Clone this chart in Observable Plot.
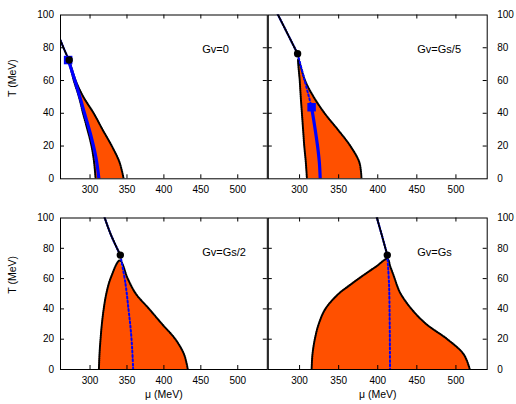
<!DOCTYPE html>
<html><head><meta charset="utf-8">
<script src="https://cdn.jsdelivr.net/npm/d3@7"></script>
<script src="https://cdn.jsdelivr.net/npm/@observablehq/plot@0.6"></script>
<style>
body{margin:0;background:#fff;}
#wrap{position:relative;width:516px;height:404px;overflow:hidden;background:#fff;}
#wrap svg{position:absolute;overflow:visible;}
</style></head><body><div id="wrap"></div>
<script>
// ---- axes ----
const xTicks = [300, 350, 400, 450, 500];
const yTicks = [0, 20, 40, 60, 80, 100];
const xDomain = [260, 540];
const yDomain = [0, 100];
const panelLabels = ["Gv=0", "Gv=Gs/5", "Gv=Gs/2", "Gv=Gs"];

// ---- Gv=0 ----
const g0_T     = [72.5, 60, 50, 40, 30, 20, 10, 0];
const g0_left  = [271.5, 278, 285, 290.5, 296.5, 302, 305.5, 307.5];
const g0_right = [271.5, 280.5, 291, 305, 317, 329.5, 340, 345.5];
const g0_crossT  = [84.5, 78, 72.5];
const g0_crossMu = [260, 266, 271.5];
const g0_dashT  = [];
const g0_dashMu = [];
const g0_solidT  = [72.5, 60, 48, 40, 27.5, 13, 0];
const g0_solidMu = [270.5, 279.5, 287.5, 292.5, 300.5, 308, 312];
const g0_cep = [271.8, 72.5];
const g0_end = [270.3, 72.5];

// ---- Gv=Gs/5 ----
const g5_T     = [73, 60, 50, 40, 30, 20, 10, 0];
const g5_left  = [298.3, 300.2, 301.5, 303, 304.5, 306, 308, 309.4];
const g5_right = [298.3, 307, 318, 332, 349, 365, 376.5, 379.2];
const g5_crossT  = [100.5, 88.5, 76.3];
const g5_crossMu = [272, 284.7, 297.5];
const g5_dashT  = [76.3, 61, 43.7];
const g5_dashMu = [297.5, 306, 315.4];
const g5_solidT  = [43.7, 30, 20, 10, 0];
const g5_solidMu = [315.4, 320, 323, 325.3, 326.4];
const g5_cep = [297.5, 76.3];
const g5_end = [315.4, 43.7];

// ---- Gv=Gs/2 ----
const g2_T     = [72, 60, 50, 40, 30, 20, 10, 0];
const g2_left  = [340.3, 327.7, 322, 318.5, 316, 314.2, 312.8, 312];
const g2_right = [340.3, 351, 362, 380, 397.5, 415.5, 427.3, 432.4];
const g2_crossT  = [100.5, 89.6, 75.5];
const g2_crossMu = [319.6, 327.7, 341];
const g2_dashT  = [75.5, 56.6, 40, 27.9, 14, 0];
const g2_dashMu = [341, 348, 352, 354.8, 357, 358.4];
const g2_solidT  = [];
const g2_solidMu = [];
const g2_cep = [341, 75.5];
const g2_end = null;

// ---- Gv=Gs ----
const g1_T     = [73, 68, 61, 55, 50, 40, 30, 20, 10, 0];
const g1_left  = [412.4, 398, 378.3, 362.5, 350, 333, 324.5, 319.5, 316.5, 315.4];
const g1_right = [412.4, 416, 421, 425, 429.3, 443, 462, 489, 510, 517.8];
const g1_crossT  = [100.5, 89.6, 75.5];
const g1_crossMu = [398.7, 404.7, 412.2];
const g1_dashT  = [75.5, 56.6, 30, 0];
const g1_dashMu = [412.2, 414.4, 415.3, 415.7];
const g1_solidT  = [];
const g1_solidMu = [];
const g1_cep = [412.2, 75.5];
const g1_end = null;

const ORANGE = "#ff5000";
const BLUE = "#0000ff";
const FONT = "'Liberation Sans', Arial, Helvetica, sans-serif";
const curve = "catmull-rom";

function pts(mus, Ts) { return mus.map((m, i) => ({mu: m, T: Ts[i]})); }

function panel(cfg) {
  const {T, left, right, crossT, crossMu, dashT, dashMu, solidT, solidMu, cep, end, label, box} = cfg;
  const rows = T.map((t, i) => ({T: t, l: left[i], r: right[i]}));
  const boundary = pts(left, T).reverse().concat(pts(right, T).slice(1));
  const cross = pts(crossMu, crossT);
  const dash = pts(dashMu, dashT);
  const solid = pts(solidMu, solidT);
  const W = box.width - box.ml - box.mr;
  const H = box.height - box.mt - box.mb;
  const marks = [
    Plot.areaX(rows, {y: "T", x1: "l", x2: "r", fill: ORANGE, curve}),
    Plot.line(boundary, {x: "mu", y: "T", stroke: "#000", strokeWidth: 2, strokeDasharray: "1,1.1", curve, clip: true}),
    Plot.line(cross, {x: "mu", y: "T", stroke: BLUE, strokeWidth: 2, curve, clip: true}),
    Plot.line(cross, {x: "mu", y: "T", stroke: "#000", strokeWidth: 2, strokeDasharray: "1,1.8", curve, clip: true}),
    Plot.line(dash, {x: "mu", y: "T", stroke: BLUE, strokeWidth: 2, strokeDasharray: "1.8,2.4", curve, clip: true}),
    Plot.line(solid, {x: "mu", y: "T", stroke: BLUE, strokeWidth: 3.2, curve, clip: true}),
  ];
  if (end) marks.push(Plot.dot([end], {x: d => d[0], y: d => d[1], symbol: "square", r: 4.8, fill: BLUE}));
  marks.push(Plot.dot([cep], {x: d => d[0], y: d => d[1], r: 3.7, fill: "#000"}));
  marks.push(
    Plot.frame({stroke: "#000", strokeWidth: 1}),
    Plot.tickX(xTicks, {x: d => d, insetTop: H - 4, stroke: "#000"}),
    Plot.tickX(xTicks, {x: d => d, insetBottom: H - 4, stroke: "#000"}),
    Plot.tickY(yTicks.slice(1, -1), {y: d => d, insetRight: W - 4, stroke: "#000"}),
    Plot.tickY(yTicks.slice(1, -1), {y: d => d, insetLeft: W - 4, stroke: "#000"}),
    Plot.axisX(xTicks, {anchor: "bottom", tickSize: 0, tickPadding: 7, label: null, fontSize: 10}),
    Plot.axisY(yTicks, {anchor: box.yAnchor, tickSize: 0, tickPadding: box.yAnchor === "left" ? 6.5 : 10, label: null, fontSize: 10}),
    Plot.text([label], {frameAnchor: "top-left", dx: box.labelDx, dy: 30.5, textAnchor: "start", fontSize: 11})
  );
  if (box.yAnchor === "left") {
    marks.push(Plot.text(["T (MeV)"], {frameAnchor: "left", dx: -48, rotate: -90, fontSize: 10.5}));
  }
  if (box.xTitle) {
    marks.push(Plot.text(["\u03bc (MeV)"], {frameAnchor: "bottom", dy: 28.7, fontSize: 10.5}));
  }
  const svg = Plot.plot({
    width: box.width, height: box.height,
    marginLeft: box.ml, marginRight: box.mr, marginTop: box.mt, marginBottom: box.mb,
    style: {background: "transparent", fontFamily: FONT, fontSize: "10px", color: "#000", overflow: "visible"},
    x: {domain: xDomain},
    y: {domain: yDomain},
    marks
  });
  svg.style.left = box.left + "px";
  svg.style.top = box.top + "px";
  return svg;
}

const wrap = document.getElementById("wrap");
wrap.appendChild(panel({T: g0_T, left: g0_left, right: g0_right, crossT: g0_crossT, crossMu: g0_crossMu,
  dashT: g0_dashT, dashMu: g0_dashMu, solidT: g0_solidT, solidMu: g0_solidMu, cep: g0_cep, end: g0_end,
  label: panelLabels[0],
  box: {left: 0, top: 0, width: 275, height: 200, ml: 60, mr: 8.2, mt: 14.5, mb: 21.7, yAnchor: "left", labelDx: 141.7, xTitle: false}}));
wrap.appendChild(panel({T: g5_T, left: g5_left, right: g5_right, crossT: g5_crossT, crossMu: g5_crossMu,
  dashT: g5_dashT, dashMu: g5_dashMu, solidT: g5_solidT, solidMu: g5_solidMu, cep: g5_cep, end: g5_end,
  label: panelLabels[1],
  box: {left: 260, top: 0, width: 256, height: 200, ml: 7.8, mr: 29.3, mt: 14.5, mb: 21.7, yAnchor: "right", labelDx: 149, xTitle: false}}));
wrap.appendChild(panel({T: g2_T, left: g2_left, right: g2_right, crossT: g2_crossT, crossMu: g2_crossMu,
  dashT: g2_dashT, dashMu: g2_dashMu, solidT: g2_solidT, solidMu: g2_solidMu, cep: g2_cep, end: g2_end,
  label: panelLabels[2],
  box: {left: 0, top: 200, width: 275, height: 204, ml: 60, mr: 8.2, mt: 17.5, mb: 35, yAnchor: "left", labelDx: 141.7, xTitle: true}}));
wrap.appendChild(panel({T: g1_T, left: g1_left, right: g1_right, crossT: g1_crossT, crossMu: g1_crossMu,
  dashT: g1_dashT, dashMu: g1_dashMu, solidT: g1_solidT, solidMu: g1_solidMu, cep: g1_cep, end: g1_end,
  label: panelLabels[3],
  box: {left: 260, top: 200, width: 256, height: 204, ml: 7.8, mr: 29.3, mt: 17.5, mb: 35, yAnchor: "right", labelDx: 149, xTitle: true}}));
</script>
</body></html>
